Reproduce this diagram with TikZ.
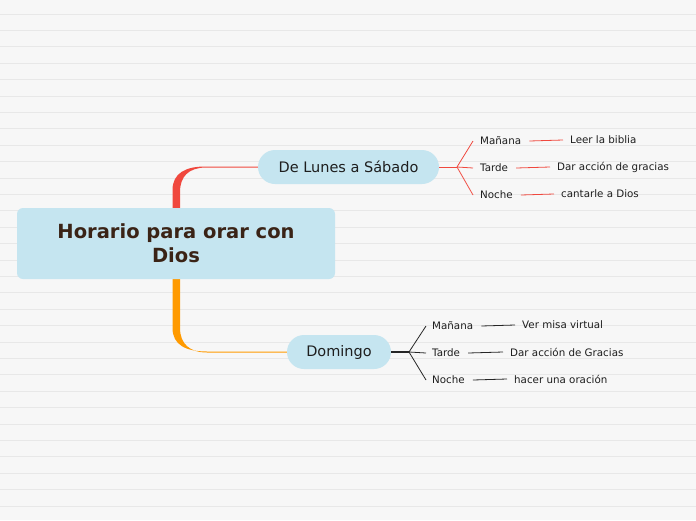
\documentclass[tikz,border=0pt]{standalone}
\usepackage{fontspec}
\setmainfont{DejaVu Sans}
\usetikzlibrary{calc}
\definecolor{bg}{HTML}{F7F7F7}
\definecolor{gridc}{HTML}{E8E8E8}
\definecolor{nodefill}{HTML}{C5E5F0}
\definecolor{roottext}{HTML}{3A2316}
\definecolor{redc}{HTML}{F0483E}
\definecolor{orangec}{HTML}{FF9A00}
\definecolor{txt}{HTML}{1E1E1E}
\begin{document}
\begin{tikzpicture}[x=1pt,y=-1pt,
  rootbox/.style={fill=nodefill, rounded corners=6pt, minimum width=318pt, minimum height=71pt, text=roottext, font=\fontsize{19.5}{24}\selectfont\bfseries, align=center, inner sep=0pt},
  topic/.style={fill=nodefill, rounded corners=17pt, minimum height=34pt, font=\fontsize{14.5}{17}\selectfont, text=txt, inner sep=0pt},
  leaf/.style={anchor=west, inner sep=0pt, font=\fontsize{10.3}{12}\selectfont, text=txt},
  redline/.style={draw=redc, line width=0.8pt},
  blackline/.style={draw=black!85, line width=0.8pt}]
\useasboundingbox (0,0) rectangle (696,520);
\fill[bg] (0,0) rectangle (696,520);
\foreach \k in {0,...,30} \draw[gridc, line width=1pt] (0,{14+16.4*\k}) -- (696,{14+16.4*\k});

% main connectors (tapered)
\fill[redc] (172.5,212) -- (172.5,190) .. controls (172.5,173) and (186,166.5) .. (205,166.5) -- (259,166.5) -- (259,167.5) -- (205,167.5) .. controls (189,168) and (180,176) .. (180,192) -- (180,212) -- cycle;
\fill[orangec] (172.5,275) -- (172.5,328) .. controls (172.5,345) and (186,351.5) .. (207,351.5) -- (288,351.5) -- (288,352.5) -- (207,352.5) .. controls (190,352.5) and (180,344) .. (180,328) -- (180,275) -- cycle;

\node[rootbox] (root) at (176,243.5) {Horario para orar con\\Dios};
\node[topic, minimum width=181pt] (lunes) at (348.5,167) {De Lunes a Sábado};
\node[topic, minimum width=104pt] (dom) at (339,352) {Domingo};

% Lunes branch
\coordinate (lf) at (457,167);
\node[leaf] (lm) at (480,141) {Mañana};
\node[leaf] (lt) at (480,168) {Tarde};
\node[leaf] (ln) at (480,195) {Noche};
\node[leaf] (lmv) at (570,140) {Leer la biblia};
\node[leaf] (ltv) at (557,167) {Dar acción de gracias};
\node[leaf] (lnv) at (561,194) {cantarle a Dios};
\draw[redline] (lunes.east) -- (lf);
\foreach \n in {lm,lt,ln} \draw[redline] (lf) -- ($(\n.west)+(-7,0)$);
\draw[redline] ($(lm.east)+(8,0)$) -- ($(lmv.west)+(-7,0)$);
\draw[redline] ($(lt.east)+(8,0)$) -- ($(ltv.west)+(-7,0)$);
\draw[redline] ($(ln.east)+(8,0)$) -- ($(lnv.west)+(-7,0)$);

% Domingo branch
\coordinate (df) at (409,352);
\node[leaf] (dm) at (432,326) {Mañana};
\node[leaf] (dt) at (432,353) {Tarde};
\node[leaf] (dn) at (432,380) {Noche};
\node[leaf] (dmv) at (522,325) {Ver misa virtual};
\node[leaf] (dtv) at (510,352) {Dar acción de Gracias};
\node[leaf] (dnv) at (514,379) {hacer una oración};
\draw[blackline, line width=1.4pt] (dom.east) -- (df);
\foreach \n in {dm,dt,dn} \draw[blackline] (df) -- ($(\n.west)+(-6,0)$);
\draw[blackline] ($(dm.east)+(8,0)$) -- ($(dmv.west)+(-7,0)$);
\draw[blackline] ($(dt.east)+(8,0)$) -- ($(dtv.west)+(-7,0)$);
\draw[blackline] ($(dn.east)+(8,0)$) -- ($(dnv.west)+(-7,0)$);
\end{tikzpicture}
\end{document}
